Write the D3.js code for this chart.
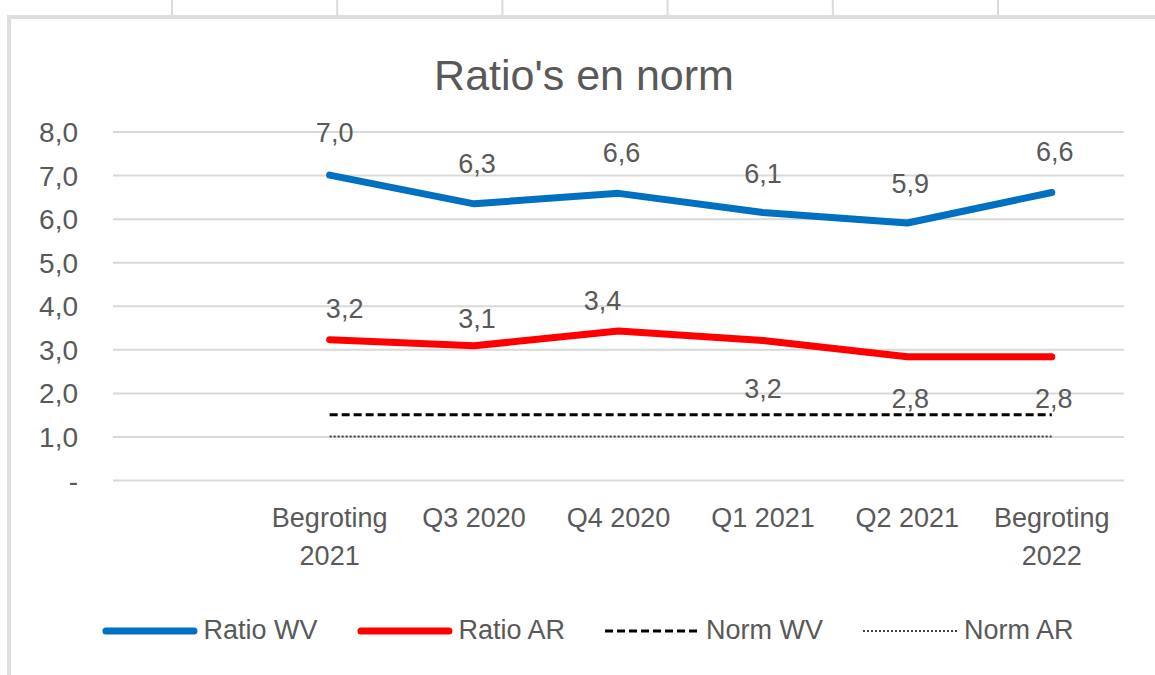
<!DOCTYPE html>
<html>
<head>
<meta charset="utf-8">
<script src="https://cdn.jsdelivr.net/npm/d3@7"></script>
<style>
    html, body { margin: 0; padding: 0; background: #fff; }
    svg text { font-family: "Liberation Sans", Arial, sans-serif; fill: #595959; }
</style>
</head>
<body>
<svg id="chart" width="1155" height="675"></svg>
<script>
// categories (first one is an empty row in the sheet)
const categories = ["", "Begroting 2021", "Q3 2020", "Q4 2020", "Q1 2021", "Q2 2021", "Begroting 2022"];
const yTicks = [0, 1, 2, 3, 4, 5, 6, 7, 8];

const ratioWV = [7.0, 6.34, 6.58, 6.14, 5.9, 6.6];
const ratioAR = [3.22, 3.08, 3.42, 3.2, 2.83, 2.83];
const normWV = [1.5, 1.5, 1.5, 1.5, 1.5, 1.5];
const normAR = [1.0, 1.0, 1.0, 1.0, 1.0, 1.0];

const seriesNames = ["Ratio WV", "Ratio AR", "Norm WV", "Norm AR"];

const svg = d3.select("#chart");
const W = 1155, H = 675;
const plotL = 113, plotR = 1124, plotT = 131.5, plotB = 480;

// sheet cell lines above the chart + chart border
const bg = svg.append("g");
for (let i = 0; i < 6; i++) {
    const cx = 172 + i * 165.2;
    bg.append("line").attr("x1", cx).attr("x2", cx).attr("y1", 0).attr("y2", 15)
        .attr("stroke", "#dadada").attr("stroke-width", 2);
}
bg.append("path")
    .attr("d", `M9,${H + 2}V17H${W + 2}`)
    .attr("fill", "none").attr("stroke", "#dedede").attr("stroke-width", 4);

const x = d3.scalePoint().domain(categories).range([plotL, plotR]).padding(0.5);
const y = d3.scaleLinear().domain([0, 8]).range([plotB, plotT]);

// title
svg.append("text")
    .attr("x", 584).attr("y", 90)
    .attr("text-anchor", "middle")
    .style("font-size", "43px")
    .text("Ratio's en norm");

// y axis with gridlines
const fmt = v => v === 0 ? "-" : d3.format(".1f")(v).replace(".", ",");
const yAxis = svg.append("g")
    .attr("transform", `translate(${plotL},0)`)
    .call(d3.axisLeft(y).tickValues(yTicks).tickFormat(fmt)
        .tickSizeInner(-(plotR - plotL)).tickSizeOuter(0).tickPadding(35));
yAxis.select(".domain").remove();
yAxis.selectAll(".tick line").attr("stroke", "#d9d9d9").attr("stroke-width", 2);
yAxis.selectAll(".tick text")
    .style("font-size", "28px").style("font-family", "Liberation Sans, Arial, sans-serif")
    .attr("fill", "#595959").attr("dy", "0.36em");

// x labels
const xl = svg.append("g");
categories.slice(1).forEach(c => {
    const parts = c.startsWith("Begroting") ? c.split(" ") : [c];
    const t = xl.append("text")
        .attr("x", x(c)).attr("y", 527)
        .attr("text-anchor", "middle")
        .style("font-size", "27px");
    parts.forEach((p, i) => {
        t.append("tspan").attr("x", x(c)).attr("dy", i === 0 ? 0 : 38).text(p);
    });
});

const cats = categories.slice(1);
const line = d3.line().x((d, i) => x(cats[i])).y(d => y(d));

const styles = [
    { data: ratioWV, color: "#0070c0", width: 7, dash: null },
    { data: ratioAR, color: "#ff0000", width: 7, dash: null },
    { data: normWV, color: "#000000", width: 3, dash: "8,4" },
    { data: normAR, color: "#404040", width: 2, dash: "2,2" },
];

styles.slice().reverse().forEach(s => {
    svg.append("path")
        .datum(s.data)
        .attr("d", line)
        .attr("fill", "none")
        .attr("stroke", s.color)
        .attr("stroke-width", s.width)
        .attr("stroke-linecap", s.dash ? "butt" : "round")
        .attr("stroke-linejoin", "round")
        .attr("stroke-dasharray", s.dash);
});

// data labels
const lblFmt = v => d3.format(".1f")(v).replace(".", ",");
const wvNudge = [[5, -33], [3, -31], [3, -31], [0, -30], [3, -30], [3, -31]];
const arNudge = [[15, -22], [3, -18], [-16, -21], [0, 57], [3, 51], [2, 51]];
[[ratioWV, wvNudge], [ratioAR, arNudge]].forEach(([vals, nudge]) => {
    svg.append("g").selectAll("text")
        .data(vals)
        .join("text")
        .attr("x", (d, i) => x(cats[i]) + nudge[i][0])
        .attr("y", (d, i) => y(d) + nudge[i][1])
        .attr("text-anchor", "middle")
        .style("font-size", "27px")
        .text(lblFmt);
});

// legend
const lg = svg.append("g");
let lx = 0;
seriesNames.forEach((name, i) => {
    const g = lg.append("g");
    const s = styles[i];
    g.append("line")
        .attr("x1", lx + (s.dash ? 0 : 3.5)).attr("x2", lx + (s.dash ? 95 : 91.5))
        .attr("y1", 631).attr("y2", 631)
        .attr("stroke", s.color).attr("stroke-width", s.width)
        .attr("stroke-linecap", s.dash ? "butt" : "round")
        .attr("stroke-dasharray", s.dash);
    const t = g.append("text")
        .attr("x", lx + 101).attr("y", 639)
        .style("font-size", "27px")
        .text(name);
    lx += 101 + t.node().getComputedTextLength() + 40;
});
const lw = lx - 40;
lg.attr("transform", `translate(${588 - lw / 2},0)`);
</script>
</body>
</html>
